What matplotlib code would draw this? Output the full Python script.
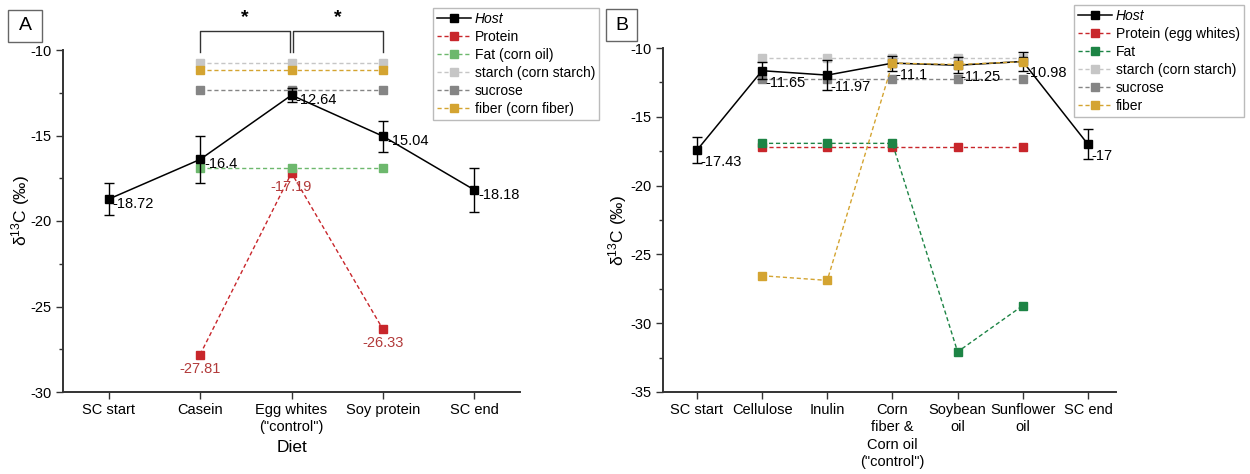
import numpy as np
import matplotlib
matplotlib.use("Agg")
import matplotlib.pyplot as plt
from matplotlib.patches import Rectangle
from matplotlib.ticker import MultipleLocator

plt.rcParams['font.family'] = ['Liberation Sans', 'DejaVu Sans']
plt.rcParams['mathtext.default'] = 'regular'
plt.rcParams['axes.unicode_minus'] = False
plt.rcParams['font.size'] = 10

nan = np.nan

# Panel A: protein source diets
diets_a = ['SC start', 'Casein', 'Egg whites\n("control")', 'Soy protein', 'SC end']
host_a = [-18.72, -16.4, -12.64, -15.04, -18.18]
host_a_err = [0.93, 1.38, 0.4, 0.9, 1.3]
protein_a = [nan, -27.81, -17.19, -26.33, nan]
fat_a = [nan, -16.9, -16.9, -16.9, nan]
starch_a = [nan, -10.74, -10.74, -10.74, nan]
sucrose_a = [nan, -12.34, -12.34, -12.34, nan]
fiber_a = [nan, -11.19, -11.19, -11.19, nan]

# Panel B: fiber / fat source diets
diets_b = ['SC start', 'Cellulose', 'Inulin', 'Corn\nfiber &\nCorn oil\n("control")',
           'Soybean\noil', 'Sunflower\noil', 'SC end']
host_b = [-17.43, -11.65, -11.97, -11.1, -11.25, -10.98, -17.0]
host_b_err = [0.95, 0.6, 1.1, 0.55, 0.6, 0.7, 1.1]
protein_b = [nan, -17.19, -17.19, -17.19, -17.19, -17.19, nan]
fat_b = [nan, -16.93, -16.93, -16.93, -32.08, -28.72, nan]
starch_b = [nan, -10.75, -10.75, -10.75, -10.75, -10.75, nan]
sucrose_b = [nan, -12.27, -12.27, -12.27, -12.27, -12.27, nan]
fiber_b = [nan, -26.55, -26.89, -11.1, -11.2, -11.0, nan]

RED = '#c8262b'
GREEN_A = '#6db86d'
GREEN_B = '#1d8445'
STARCH = '#c6c6c6'
SUCROSE = '#858585'
FIBER = '#d4a431'
AXC = '#333333'
DASH = (0, (3, 2))

W, H = 1250, 474
fig = plt.figure(figsize=(W / 100, H / 100), dpi=100)


def px_axes(x0, y0, x1, y1):
    return fig.add_axes([x0 / W, 1 - y1 / H, (x1 - x0) / W, (y1 - y0) / H])


def style_axes(ax, labels, ylim, xlim):
    ax.set_xlim(*xlim)
    ax.set_ylim(*ylim)
    for s in ['top', 'right']:
        ax.spines[s].set_visible(False)
    for s in ['left', 'bottom']:
        ax.spines[s].set_color(AXC)
        ax.spines[s].set_linewidth(1.4)
    ax.set_xticks(range(len(labels)))
    ax.set_xticklabels(labels, linespacing=1.3)
    ax.yaxis.set_major_locator(MultipleLocator(5))
    ax.yaxis.set_minor_locator(MultipleLocator(2.5))
    ax.tick_params(axis='both', which='major', direction='out', length=5,
                   width=1, color=AXC, labelsize=10.5, pad=3)
    ax.tick_params(axis='y', which='minor', direction='out', length=3,
                   width=1, color=AXC)


def dashed(ax, y, color, label, z=3):
    line, = ax.plot(range(len(y)), y, color=color, ls=DASH, lw=1, marker='s',
                    ms=6, mec=color, mfc=color, label=label, zorder=z)
    return line


def host(ax, y, err):
    ax.errorbar(range(len(y)), y, yerr=err, color='black', lw=1.1, marker='s',
                ms=6, capsize=3.5, elinewidth=1, capthick=1, zorder=4)
    # plain line used as the legend handle
    line, = ax.plot([], [], color='black', lw=1.1, marker='s', ms=6, label='Host')
    return line


def panel_box(x0, y0, x1, y1, letter):
    fig.patches.append(Rectangle((x0 / W, 1 - y1 / H), (x1 - x0) / W, (y1 - y0) / H,
                                 transform=fig.transFigure, fill=False,
                                 edgecolor='#666666', lw=1))
    fig.text((x0 + x1) / 2 / W, 1 - (y0 + y1) / 2 / H, letter, ha='center',
             va='center', fontsize=14)


def legend(ax, handles, anchor):
    leg = ax.legend(handles=handles, loc='upper left', bbox_to_anchor=anchor,
                    bbox_transform=fig.transFigure, fontsize=10, numpoints=1,
                    handlelength=2.4, handletextpad=0.3, labelspacing=0.28,
                    borderpad=0.3, borderaxespad=0, fancybox=False, framealpha=1)
    leg.get_frame().set_edgecolor('#bbbbbb')
    leg.get_frame().set_linewidth(1)
    leg.get_texts()[0].set_style('italic')
    return leg


ylab = r'δ$^{13}$C (‰)'

# ---- panel A ----
ax1 = px_axes(63, 50, 520, 392)
style_axes(ax1, diets_a, (-30, -10), (-0.5, 4.5))
h = [host(ax1, host_a, host_a_err),
     dashed(ax1, protein_a, RED, 'Protein'),
     dashed(ax1, fat_a, GREEN_A, 'Fat (corn oil)'),
     dashed(ax1, starch_a, STARCH, 'starch (corn starch)'),
     dashed(ax1, sucrose_a, SUCROSE, 'sucrose'),
     dashed(ax1, fiber_a, FIBER, 'fiber (corn fiber)')]
for i, v in enumerate(host_a):
    ax1.annotate(f'{v:g}', (i, v), xytext=(4, -5), textcoords='offset pixels',
                 ha='left', va='center', fontsize=10.5, zorder=6)
for i, v in enumerate(protein_a):
    if not np.isnan(v):
        ax1.annotate(f'{v:g}', (i, v), xytext=(0, -14), textcoords='offset pixels',
                     ha='center', va='center', fontsize=10.5, color='#b23a3a', zorder=6)
ax1.set_xlabel('Diet', fontsize=12.5, labelpad=4)
ax1.set_ylabel(ylab, fontsize=12.5)
ax1.yaxis.set_label_coords(-0.068, 0.53)

# significance brackets above the axes
top, low = -8.89, -10.1
for xa, xb in [(1, 1.985), (2.015, 3)]:
    ax1.plot([xa, xa, xb, xb], [low, top, top, low], color='#333333', lw=1,
             clip_on=False)
    ax1.text((xa + xb) / 2, -8.1, '*', ha='center', va='center', fontsize=14,
             fontweight='bold')

legend(ax1, h, (433 / W, 1 - 8 / H))
panel_box(8, 10, 42, 42, 'A')

# ---- panel B ----
ax2 = px_axes(663, 48, 1116, 392)
style_axes(ax2, diets_b, (-35, -10), (-0.52, 6.43))
h = [host(ax2, host_b, host_b_err),
     dashed(ax2, protein_b, RED, 'Protein (egg whites)'),
     dashed(ax2, fat_b, GREEN_B, 'Fat'),
     dashed(ax2, starch_b, STARCH, 'starch (corn starch)', z=2),
     dashed(ax2, sucrose_b, SUCROSE, 'sucrose'),
     dashed(ax2, fiber_b, FIBER, 'fiber', z=5)]
for i, v in enumerate(host_b):
    ax2.annotate(f'{v:g}', (i, v), xytext=(3, -12), textcoords='offset pixels',
                 ha='left', va='center', fontsize=10.5, zorder=6)
ax2.set_ylabel(ylab, fontsize=12.5)
ax2.yaxis.set_label_coords(-0.075, 0.47)

legend(ax2, h, (1074 / W, 1 - 5 / H))
panel_box(606, 9, 637, 41, 'B')

fig.savefig('out.png', dpi=100, facecolor='white')
